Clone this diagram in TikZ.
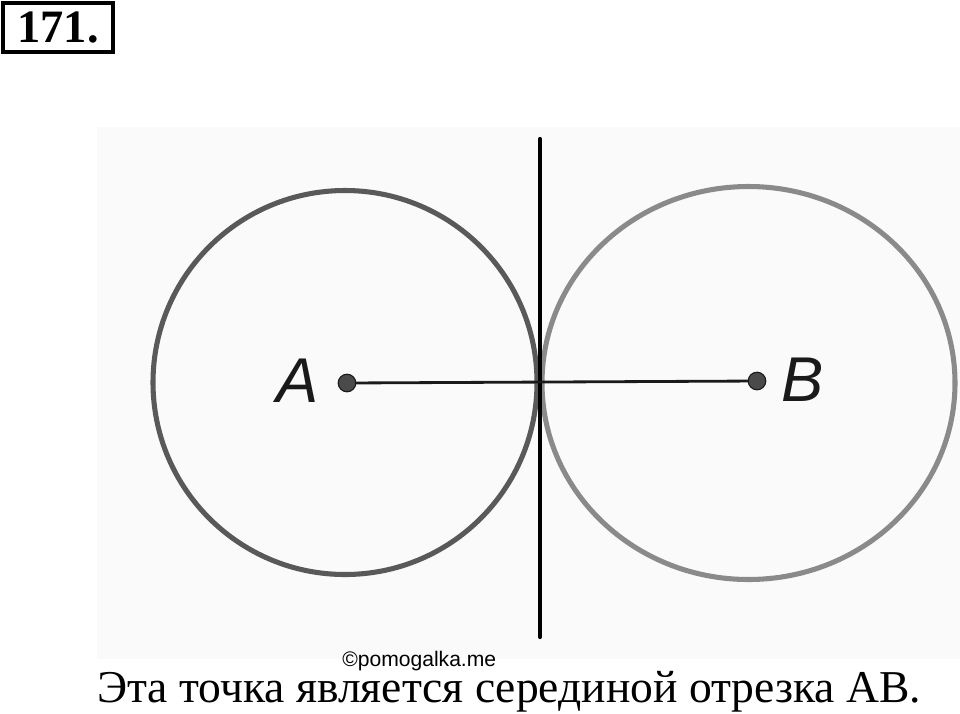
\documentclass[tikz,border=0pt]{standalone}
\usepackage{fontspec}
\setmainfont{Liberation Serif}
\newfontfamily\ptfont{Liberation Sans}
\usetikzlibrary{calc}
\definecolor{paper}{HTML}{FAFAFA}
\definecolor{leftc}{HTML}{595959}
\definecolor{rightc}{HTML}{8A8A8A}
\definecolor{ink}{HTML}{1A1A1A}
\definecolor{dotc}{HTML}{4A4A4A}
\tikzset{
  ring/.style={line width=3.6pt},
  perp/.style={draw=black, line width=3pt, line cap=round},
  seg/.style={draw=ink, line width=2pt, line cap=round},
  dot/.style={circle, fill=dotc, draw=ink, line width=0.8pt, inner sep=0pt, minimum size=12.5pt},
  lab/.style={text=ink, inner sep=0pt, font=\ptfont\itshape\fontsize{45}{45}\selectfont},
  numbox/.style={draw=black, line width=2.6pt, minimum width=78pt, minimum height=35pt, inner sep=0pt, font=\bfseries\fontsize{33}{33}\selectfont},
  answer/.style={anchor=base west, inner sep=0pt, font=\fontsize{32.4}{32.4}\selectfont},
  wmark/.style={anchor=base west, inner sep=0pt, text depth=0pt, font=\ptfont\fontsize{15}{15}\selectfont},
}
\begin{document}
\begin{tikzpicture}[x=0.025cm, y=-0.025cm]
  \useasboundingbox (0,0) rectangle (960,713);
  \fill[paper] (97,127) rectangle (960,659);

  \node[numbox] (num) at (58,27.5) {171.};

  \draw[ring, leftc] (345,382.5) circle (192);
  \draw[ring, rightc] (748.5,383) ellipse [x radius=206.5, y radius=196.5];

  \coordinate (top) at (540,139);
  \coordinate (bot) at (540,637);
  \draw[perp] (top) -- (bot); % bisector

  \node[dot] (A) at (347,383) {};
  \node[dot] (B) at (757,381) {};
  \draw[seg] (A) -- (B);

  \node[lab] (labA) at (298,381) {A};
  \node[lab] (labB) at (803,380) {B};

  \node[answer] (txt) at (97,702) {Эта точка является серединой отрезка АВ.};
  \node[wmark] (wm) at (342,666) {©pomogalka.me};
\end{tikzpicture}
\end{document}
